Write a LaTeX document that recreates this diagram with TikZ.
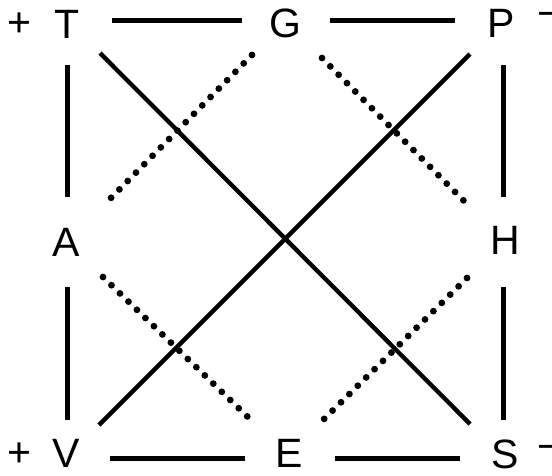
\documentclass[tikz,border=0pt]{standalone}
\usepackage{fontspec}
\setmainfont{Liberation Sans}
\begin{document}
\begin{tikzpicture}[x=1pt,y=-1pt,
  lbl/.style={inner sep=0pt, font=\fontsize{41}{41}\selectfont},
  solidline/.style={line width=5pt},
  dotline/.style={line width=6.8pt, line cap=round, dash pattern=on 0pt off 11.8pt}]
\useasboundingbox (0,0) rectangle (552,475);
% letters
\node[lbl] (T) at (67,24) {T};
\node[lbl] (G) at (285,23) {G};
\node[lbl] (P) at (501,23) {P};
\node[lbl] (A) at (66,242) {A};
\node[lbl] (H) at (505,240) {H};
\node[lbl] (V) at (66,453) {V};
\node[lbl] (E) at (289,453) {E};
\node[lbl] (S) at (505,454) {S};
\node[lbl] (pT) at (19,25) {+};
\node[lbl] (pV) at (19,455) {+};
\node[lbl,anchor=west] (mP) at (537,20) {−};
\node[lbl,anchor=west] (mS) at (537,453) {−};
% endpoints
\coordinate (tg1) at (112,20); \coordinate (tg2) at (242,20);
\coordinate (gp1) at (330,20); \coordinate (gp2) at (455,20);
\coordinate (ve1) at (110,458); \coordinate (ve2) at (245,458);
\coordinate (es1) at (335,458); \coordinate (es2) at (460,458);
\coordinate (ta1) at (67,65); \coordinate (ta2) at (67,197);
\coordinate (av1) at (67,287); \coordinate (av2) at (67,420);
\coordinate (ph1) at (503,65); \coordinate (ph2) at (503,197);
\coordinate (hs1) at (503,287); \coordinate (hs2) at (503,420);
\coordinate (ts1) at (100,53); \coordinate (ts2) at (470,424);
\coordinate (pv1) at (470,54); \coordinate (pv2) at (99,425);
\coordinate (ga1) at (252,55); \coordinate (ga2) at (105,204);
\coordinate (gh1) at (322,58); \coordinate (gh2) at (471,208);
\coordinate (ae1) at (103,277); \coordinate (ae2) at (253,422);
\coordinate (he1) at (467,278); \coordinate (he2) at (321,422);
% solid lines
\draw[solidline] (tg1) -- (tg2);
\draw[solidline] (gp1) -- (gp2);
\draw[solidline] (ve1) -- (ve2);
\draw[solidline] (es1) -- (es2);
\draw[solidline] (ta1) -- (ta2);
\draw[solidline] (av1) -- (av2);
\draw[solidline] (ph1) -- (ph2);
\draw[solidline] (hs1) -- (hs2);
\draw[line width=4.3pt] (ts1) -- (ts2);
\draw[line width=4.3pt] (pv1) -- (pv2);
% dotted lines
\draw[dotline] (ga1) -- (ga2);
\draw[dotline] (gh1) -- (gh2);
\draw[dotline] (ae1) -- (ae2);
\draw[dotline] (he1) -- (he2);
\end{tikzpicture}
\end{document}
